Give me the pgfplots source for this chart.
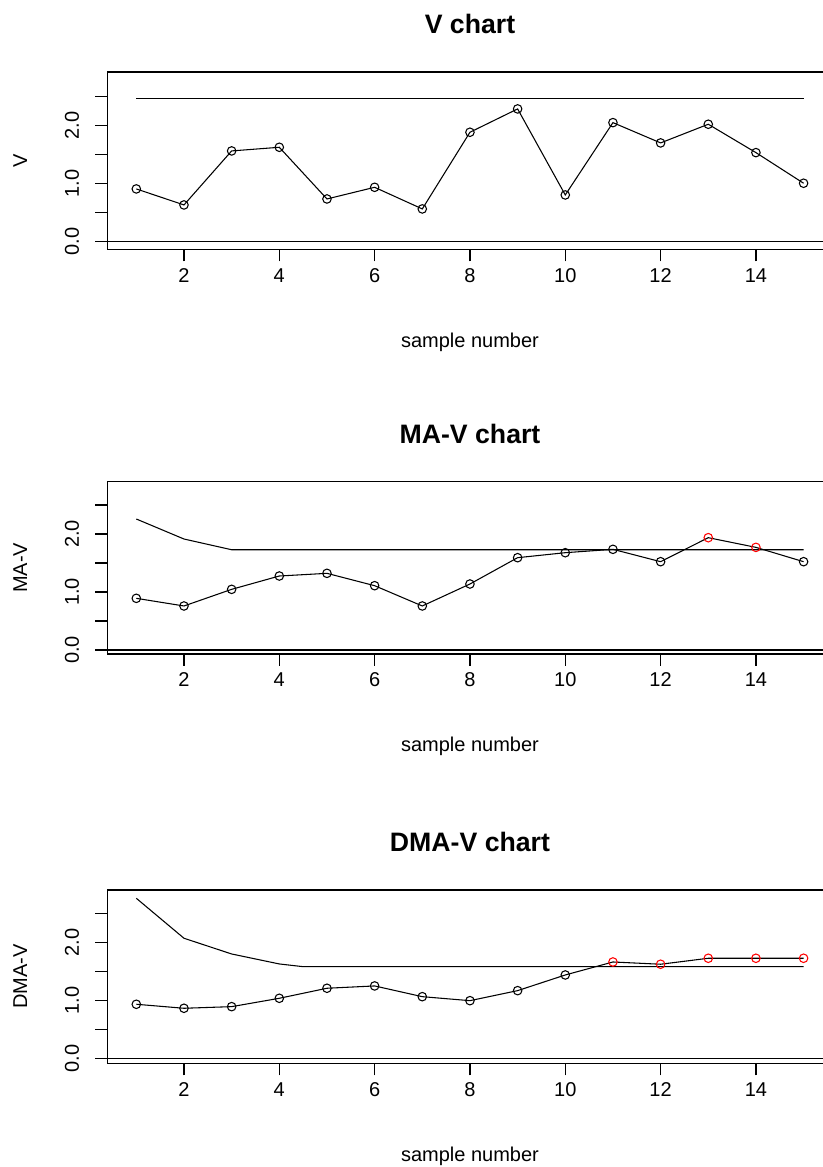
\documentclass[border=0pt]{standalone}
\usepackage{fontspec}
\setmainfont{Liberation Sans}
\usepackage{pgfplots}
\pgfplotsset{compat=1.18}
\definecolor{rred}{RGB}{255,0,0}

\pgfplotsset{
  rchart/.style={
    scale only axis, width=544pt,
    xmin=0.392, xmax=15.61,
    axis line style={line width=0.9pt},
    xtick={2,4,...,14}, xticklabels={2,4,6,8,10,12,14},
    ytick={0,0.5,...,2.5}, yticklabels={0.0,,1.0,,2.0,},
    xtick pos=bottom, ytick pos=left,
    tick align=outside, major tick length=9pt,
    tick style={line width=0.9pt, black},
    tick label style={font=\fontsize{15}{18}\selectfont, inner sep=0pt},
    xticklabel style={anchor=center},
    yticklabel style={anchor=center, rotate=90},
    xticklabel shift=10.5pt, yticklabel shift=17.5pt,
    label style={font=\fontsize{15}{18}\selectfont},
    xlabel={sample number},
    xlabel style={at={(axis description cs:0.5,0)}, anchor=center, yshift=-69.5pt},
    ylabel style={at={(axis description cs:-0.1199,0.5)}, anchor=center},
    title style={at={(axis description cs:0.5,1)}, anchor=center, yshift=30pt,
      font=\fontsize{20}{24}\selectfont\bfseries},
    every axis plot/.append style={line width=0.8pt},
    every axis plot post/.append style={mark size=3.2pt, mark options={solid, line width=0.8pt}},
  }
}

\begin{document}
\begin{tikzpicture}
\useasboundingbox (0,0) rectangle (616.5pt,875.25pt);

% V chart
\begin{axis}[rchart, at={(80.5pt,688.3pt)}, anchor=south west,
  height=133pt, ymin=-0.131, ymax=2.926,
  title={V chart}, ylabel={V}]
  \addplot[black, no marks] coordinates {(0.392,0) (15.61,0)};
  \addplot[black, no marks] coordinates {(1,2.46) (15,2.46)};
  \addplot[black, mark=o] coordinates {
    (1,0.909) (2,0.633) (3,1.564) (4,1.627) (5,0.736) (6,0.937) (7,0.564)
    (8,1.886) (9,2.288) (10,0.805) (11,2.052) (12,1.702) (13,2.024)
    (14,1.535) (15,1.007)
  };
\end{axis}

% MA-V chart
\begin{axis}[rchart, at={(80.5pt,384.75pt)}, anchor=south west,
  height=129.2pt, ymin=-0.069, ymax=2.902,
  title={MA-V chart}, ylabel={MA-V}]
  \addplot[black, no marks] coordinates {(0.392,0) (15.61,0)};
  \addplot[black, no marks] coordinates {(1,2.259) (2,1.914) (3,1.729) (15,1.729)};
  \addplot[black, no marks] coordinates {
    (1,0.891) (2,0.759) (3,1.046) (4,1.276) (5,1.322) (6,1.109) (7,0.759)
    (8,1.138) (9,1.592) (10,1.678) (11,1.736) (12,1.523) (13,1.937)
    (14,1.770) (15,1.523)
  };
  \addplot[black, only marks, mark=o] coordinates {
    (1,0.891) (2,0.759) (3,1.046) (4,1.276) (5,1.322) (6,1.109) (7,0.759)
    (8,1.138) (9,1.592) (10,1.678) (11,1.736) (12,1.523) (15,1.523)
  };
  \addplot[rred, only marks, mark=o] coordinates {(13,1.937) (14,1.770)};
\end{axis}

% DMA-V chart
\begin{axis}[rchart, at={(80.5pt,77.8pt)}, anchor=south west,
  height=130pt, ymin=-0.086, ymax=2.902,
  title={DMA-V chart}, ylabel={DMA-V}]
  \addplot[black, no marks] coordinates {(0.392,0) (15.61,0)};
  \addplot[black, no marks] coordinates {
    (1,2.758) (2,2.069) (3,1.798) (4,1.626) (4.5,1.579) (15,1.579)
  };
  \addplot[black, no marks] coordinates {
    (1,0.931) (2,0.862) (3,0.890) (4,1.034) (5,1.207) (6,1.247) (7,1.062)
    (8,0.993) (9,1.166) (10,1.436) (11,1.660) (12,1.621) (13,1.724)
    (14,1.724) (15,1.724)
  };
  \addplot[black, only marks, mark=o] coordinates {
    (1,0.931) (2,0.862) (3,0.890) (4,1.034) (5,1.207) (6,1.247) (7,1.062)
    (8,0.993) (9,1.166) (10,1.436)
  };
  \addplot[rred, only marks, mark=o] coordinates {
    (11,1.660) (12,1.621) (13,1.724) (14,1.724) (15,1.724)
  };
\end{axis}
\end{tikzpicture}
\end{document}
